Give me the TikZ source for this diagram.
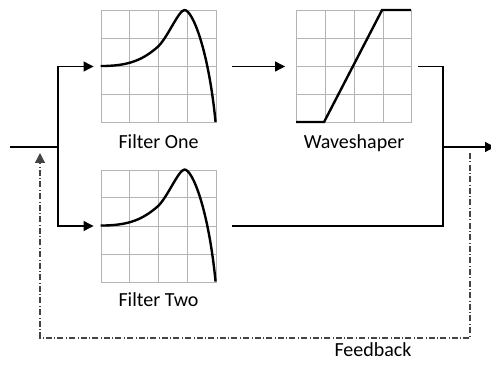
\documentclass[tikz,border=0pt]{standalone}
\usepackage{fontspec}
\setmainfont{Carlito}
\usepackage{tikz}
\usetikzlibrary{arrows.meta,calc,positioning}
\definecolor{gridgray}{HTML}{B4B4B4}
\definecolor{fbgray}{HTML}{444444}

\tikzset{
  panel/.style={draw=gridgray,line width=0.9pt,minimum width=115pt,minimum height=112pt,inner sep=0pt},
  gridline/.style={gridgray,line width=0.9pt},
  curve/.style={line width=2.4pt},
  wire/.style={line width=1.2pt},
  fb/.style={fbgray,line width=1.2pt,dash pattern=on 6pt off 2.5pt on 0.6pt off 2.5pt},
  lbl/.style={font=\fontsize{20}{24}\selectfont,inner sep=0pt},
}

\begin{document}
\begin{tikzpicture}[x=1pt,y=-1pt,>={Triangle[length=10pt,width=10pt]}]
  \useasboundingbox (0,0) rectangle (491,369);

  % graph panels
  \node[panel] (f1) at (158.5,66.5) {};
  \node[panel] (f2) at (158.5,226) {};
  \node[panel] (ws) at (354,66.5) {};
  \foreach \p in {f1,f2,ws}
    \foreach \k in {1,2,3} {
      \draw[gridline] ($(\p.north west)!\k/4!(\p.north east)$) -- ($(\p.south west)!\k/4!(\p.south east)$);
      \draw[gridline] ($(\p.north west)!\k/4!(\p.south west)$) -- ($(\p.north east)!\k/4!(\p.south east)$);
    }

  % responses
  \foreach \p in {f1,f2}
    \draw[curve,shift={(\p.north west)}] (0,56) .. controls (28,56) and (42,50) .. (57,37)
      .. controls (67,28) and (78,0) .. (84,0) .. controls (92,0) and (108,40) .. (115,112);
  \draw[curve,shift={(ws.north west)}] (0,112) -- (28,112) -- (86,0) -- (115,0);

  % labels
  \node[lbl,below=11pt of f1] (f1lbl) {Filter One};
  \node[lbl,below=11pt of ws] (wslbl) {Waveshaper};
  \node[lbl,below=10pt of f2] (f2lbl) {Filter Two};
  \node[lbl] (fblbl) at (373,350) {Feedback};

  % signal path
  \coordinate (in) at (10,147);
  \coordinate (split) at (58,147);
  \coordinate (join) at (443,147);
  \coordinate (out) at (495,147);
  \draw[wire] (in) -- (split);
  \draw[wire,->,shorten >=7pt] (split) |- (f1.west);
  \draw[wire,->,shorten >=7pt] (split) |- (f2.west);
  \draw[wire,->,shorten <=16pt,shorten >=11pt] (f1.east) -- (ws.west);
  \draw[wire,shorten <=6pt] (ws.east) -| (join);
  \draw[wire,shorten <=16pt] (f2.east) -| (join);
  \draw[wire,->] (join) -- (out);

  % feedback
  \coordinate (fbtop) at (470,153);
  \coordinate (fbtip) at (40,153);
  \draw[fb,->] (fbtop) -- ++(0,185) -| (fbtip);
\end{tikzpicture}
\end{document}
